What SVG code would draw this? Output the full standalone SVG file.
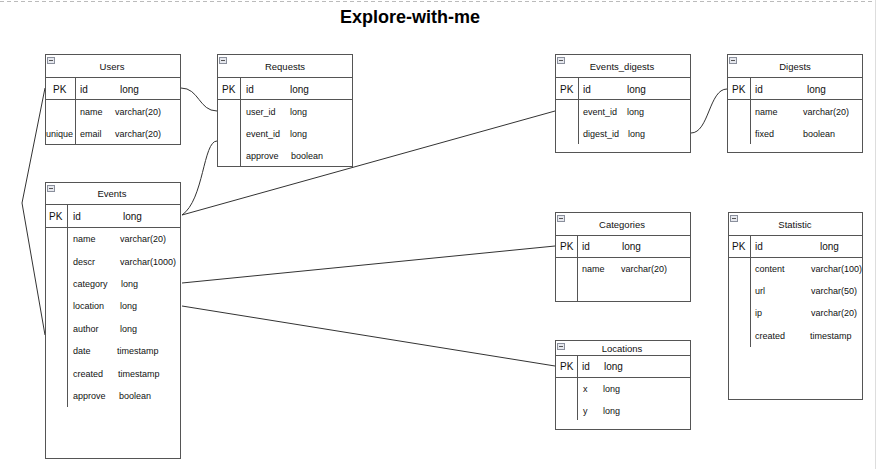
<svg xmlns="http://www.w3.org/2000/svg" width="878" height="469" viewBox="0 0 878 469">
<defs>
<style>
.box{fill:#fff;stroke:#555;stroke-width:1}
.ln{stroke:#555;stroke-width:1;fill:none}
.con{stroke:#333;stroke-width:1;fill:none}
text{font-family:"Liberation Sans",Arial,sans-serif;fill:#111}
.t{font-size:9.5px;text-anchor:middle}
.pk{font-size:10px}
.r{font-size:9px}
.title{font-size:18px;font-weight:bold;fill:#000}
</style>
<g id="icon"><rect x="0.5" y="0.5" width="7" height="6" fill="#e6e8ee" stroke="#8a8f9c"/><line x1="2" y1="3.5" x2="6" y2="3.5" stroke="#555"/></g>
</defs>
<rect width="878" height="469" fill="#fff"/>
<line x1="0" y1="1.5" x2="873" y2="1.5" stroke="#bbb" stroke-dasharray="4,3"/>
<line x1="875.5" y1="0" x2="875.5" y2="469" stroke="#ddd"/>
<text class="title" x="340" y="23">Explore-with-me</text>

<g id="connectors">
<path class="con" d="M181,88 C199,88 199,111 217,111"/>
<path class="con" d="M217,141 C203,141 204,200 182,215"/>
<path class="con" d="M182,215 L555,111"/>
<path class="con" d="M691,133 C709,133 709,89 727,89"/>
<path class="con" d="M45,88 L22,203 L45,335"/>
<path class="con" d="M182,283 L555,246"/>
<path class="con" d="M182,306 L555,366"/>
</g>

<g id="users">
<rect class="box" x="45.5" y="54.5" width="135" height="90"/>
<use href="#icon" x="47" y="57"/>
<line class="ln" x1="45" y1="77.5" x2="181" y2="77.5"/>
<line class="ln" x1="45" y1="99.5" x2="181" y2="99.5"/>
<line class="ln" x1="75.5" y1="77" x2="75.5" y2="144"/>
<text class="t" x="112" y="70">Users</text>
<text class="pk" x="53" y="92.5">PK</text><text class="pk" x="80" y="92.5">id</text><text class="pk" x="120" y="92.5">long</text>
<text class="r" x="80" y="114.5">name</text><text class="r" x="115" y="114.5">varchar(20)</text>
<text class="r" x="46" y="137">unique</text><text class="r" x="80" y="137">email</text><text class="r" x="115" y="137">varchar(20)</text>
</g>

<g id="requests">
<rect class="box" x="217.5" y="54.5" width="135" height="112"/>
<use href="#icon" x="219" y="57"/>
<line class="ln" x1="217" y1="77.5" x2="352" y2="77.5"/>
<line class="ln" x1="217" y1="99.5" x2="352" y2="99.5"/>
<line class="ln" x1="240.5" y1="77" x2="240.5" y2="166"/>
<text class="t" x="285" y="70">Requests</text>
<text class="pk" x="222" y="92.5">PK</text><text class="pk" x="246" y="92.5">id</text><text class="pk" x="290" y="92.5">long</text>
<text class="r" x="246" y="114.5">user_id</text><text class="r" x="290" y="114.5">long</text>
<text class="r" x="246" y="137">event_id</text><text class="r" x="290" y="137">long</text>
<text class="r" x="246" y="159">approve</text><text class="r" x="291" y="159">boolean</text>
</g>

<g id="events_digests">
<rect class="box" x="555.5" y="54.5" width="135" height="98"/>
<use href="#icon" x="557" y="57"/>
<line class="ln" x1="555" y1="77.5" x2="691" y2="77.5"/>
<line class="ln" x1="555" y1="99.5" x2="691" y2="99.5"/>
<line class="ln" x1="578.5" y1="77" x2="578.5" y2="144"/>
<text class="t" x="622" y="70">Events_digests</text>
<text class="pk" x="560" y="92.5">PK</text><text class="pk" x="583" y="92.5">id</text><text class="pk" x="627" y="92.5">long</text>
<text class="r" x="583" y="114.5">event_id</text><text class="r" x="627" y="114.5">long</text>
<text class="r" x="583" y="137">digest_id</text><text class="r" x="628" y="137">long</text>
</g>

<g id="digests">
<rect class="box" x="727.5" y="54.5" width="135" height="98"/>
<use href="#icon" x="729" y="57"/>
<line class="ln" x1="727" y1="77.5" x2="863" y2="77.5"/>
<line class="ln" x1="727" y1="99.5" x2="863" y2="99.5"/>
<line class="ln" x1="750.5" y1="77" x2="750.5" y2="144"/>
<text class="t" x="795" y="70">Digests</text>
<text class="pk" x="732" y="92.5">PK</text><text class="pk" x="755" y="92.5">id</text><text class="pk" x="807" y="92.5">long</text>
<text class="r" x="755" y="114.5">name</text><text class="r" x="803" y="114.5">varchar(20)</text>
<text class="r" x="755" y="137">fixed</text><text class="r" x="803" y="137">boolean</text>
</g>

<g id="events">
<rect class="box" x="45.5" y="182.5" width="135" height="276"/>
<use href="#icon" x="47" y="185"/>
<line class="ln" x1="45" y1="204.5" x2="181" y2="204.5"/>
<line class="ln" x1="45" y1="227.5" x2="181" y2="227.5"/>
<line class="ln" x1="67.5" y1="204" x2="67.5" y2="407"/>
<text class="t" x="112" y="197">Events</text>
<text class="pk" x="49" y="219.5">PK</text><text class="pk" x="73" y="219.5">id</text><text class="pk" x="123" y="219.5">long</text>
<text class="r" x="73" y="242">name</text><text class="r" x="120" y="242">varchar(20)</text>
<text class="r" x="73" y="264.5">descr</text><text class="r" x="120" y="264.5">varchar(1000)</text>
<text class="r" x="73" y="287">category</text><text class="r" x="121" y="287">long</text>
<text class="r" x="73" y="309">location</text><text class="r" x="120" y="309">long</text>
<text class="r" x="73" y="332">author</text><text class="r" x="120" y="332">long</text>
<text class="r" x="73" y="354">date</text><text class="r" x="117" y="354">timestamp</text>
<text class="r" x="73" y="377">created</text><text class="r" x="118" y="377">timestamp</text>
<text class="r" x="73" y="399">approve</text><text class="r" x="119" y="399">boolean</text>
</g>

<g id="categories">
<rect class="box" x="555.5" y="212.5" width="135" height="89"/>
<use href="#icon" x="557" y="215"/>
<line class="ln" x1="555" y1="235.5" x2="691" y2="235.5"/>
<line class="ln" x1="555" y1="257.5" x2="691" y2="257.5"/>
<line class="ln" x1="577.5" y1="235" x2="577.5" y2="302"/>
<text class="t" x="622" y="227.5">Categories</text>
<text class="pk" x="560" y="249.5">PK</text><text class="pk" x="582" y="249.5">id</text><text class="pk" x="622" y="249.5">long</text>
<text class="r" x="582" y="272">name</text><text class="r" x="621" y="272">varchar(20)</text>
</g>

<g id="locations">
<rect class="box" x="555.5" y="340.5" width="135" height="89"/>
<use href="#icon" x="557" y="343"/>
<line class="ln" x1="555" y1="355.5" x2="691" y2="355.5"/>
<line class="ln" x1="555" y1="377.5" x2="691" y2="377.5"/>
<line class="ln" x1="577.5" y1="355" x2="577.5" y2="420"/>
<text class="t" x="622" y="351.5">Locations</text>
<text class="pk" x="560" y="369.5">PK</text><text class="pk" x="582" y="369.5">id</text><text class="pk" x="604" y="369.5">long</text>
<text class="r" x="583" y="392">x</text><text class="r" x="603" y="392">long</text>
<text class="r" x="583" y="414">y</text><text class="r" x="603" y="414">long</text>
</g>

<g id="statistic">
<rect class="box" x="728.5" y="212.5" width="134" height="187"/>
<use href="#icon" x="730" y="215"/>
<line class="ln" x1="728" y1="235.5" x2="863" y2="235.5"/>
<line class="ln" x1="728" y1="257.5" x2="863" y2="257.5"/>
<line class="ln" x1="750.5" y1="235" x2="750.5" y2="347"/>
<text class="t" x="795" y="227.5">Statistic</text>
<text class="pk" x="732" y="249.5">PK</text><text class="pk" x="755" y="249.5">id</text><text class="pk" x="820" y="249.5">long</text>
<text class="r" x="755" y="272">content</text><text class="r" x="811" y="272">varchar(100)</text>
<text class="r" x="755" y="294">url</text><text class="r" x="811" y="294">varchar(50)</text>
<text class="r" x="755" y="316">ip</text><text class="r" x="811" y="316">varchar(20)</text>
<text class="r" x="755" y="339">created</text><text class="r" x="810" y="339">timestamp</text>
</g>
</svg>
